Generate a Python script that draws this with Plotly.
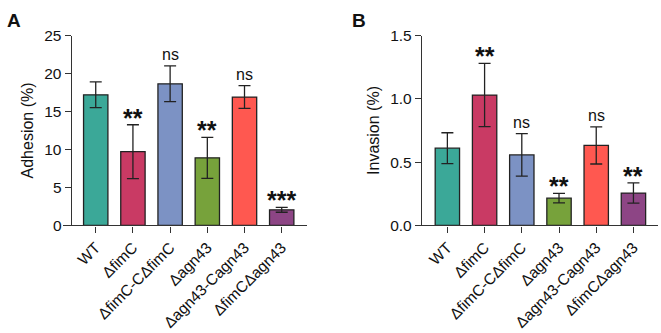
import plotly.graph_objects as go

categories = ["WT", "ΔfimC", "ΔfimC-CΔfimC", "Δagn43", "Δagn43-Cagn43", "ΔfimCΔagn43"]
colors = ["#3BA898", "#C93A64", "#7C92C4", "#77A23B", "#FF5850", "#8D4585"]

adhesion_mean = [17.2, 9.7, 18.65, 8.9, 16.9, 2.05]
adhesion_sd = [1.7, 3.55, 2.35, 2.7, 1.5, 0.32]
adhesion_sig = ["", "**", "ns", "**", "ns", "***"]

invasion_mean = [0.61, 1.03, 0.557, 0.215, 0.632, 0.255]
invasion_sd = [0.122, 0.25, 0.168, 0.038, 0.147, 0.08]
invasion_sig = ["", "**", "ns", "**", "ns", "**"]

W, H = 661, 333
FONT = "Liberation Sans, Arial, sans-serif"

fig = go.Figure()

def px_x(p):
    return p / W

def px_y(p):
    return (H - p) / H

panels = [
    dict(mean=adhesion_mean, sd=adhesion_sd, sig=adhesion_sig, xa="x", ya="y",
         xdom=[px_x(63), px_x(307)], ypos=px_x(70.8), xr=[-0.88, 5.68],
         yr=[0, 25], dtick=5, fmt="", title="Adhesion (%)", letter="A", lx=px_x(5)),
    dict(mean=invasion_mean, sd=invasion_sd, sig=invasion_sig, xa="x2", ya="y2",
         xdom=[px_x(415), px_x(658)], ypos=px_x(421), xr=[-0.87, 5.66],
         yr=[0, 1.5], dtick=0.5, fmt=".1f", title="Invasion (%)", letter="B", lx=px_x(350)),
]

annotations = []
for i, p in enumerate(panels):
    fig.add_trace(go.Bar(
        x=list(range(len(categories))), y=p["mean"],
        marker=dict(color=colors, line=dict(color="#222222", width=1.3)),
        width=0.655,
        error_y=dict(type="data", array=p["sd"], visible=True, color="#222222",
                     thickness=1.3, width=6),
        xaxis=p["xa"], yaxis=p["ya"], showlegend=False,
    ))
    for j, s in enumerate(p["sig"]):
        if not s:
            continue
        is_star = s.startswith("*")
        annotations.append(dict(
            x=j, y=p["mean"][j] + p["sd"][j], xref=p["xa"], yref=p["ya"],
            text=("<b>" + s + "</b>") if is_star else s, showarrow=False, yanchor="bottom",
            yshift=-9 if is_star else 1,
            font=dict(family=FONT, size=25 if is_star else 16, color="#111111"),
        ))
    annotations.append(dict(
        x=p["lx"], y=px_y(12), xref="paper", yref="paper", text="<b>" + p["letter"] + "</b>",
        showarrow=False, xanchor="left", yanchor="middle",
        font=dict(family=FONT, size=19, color="#111111"),
    ))

axis_common = dict(showline=True, linecolor="#333333", linewidth=1.4,
                   ticks="outside", tickcolor="#333333", tickwidth=1.4, ticklen=6,
                   showgrid=False, zeroline=False)

layout = dict(
    width=W, height=H, margin=dict(l=0, r=0, t=0, b=0),
    paper_bgcolor="white", plot_bgcolor="white",
    font=dict(family=FONT, size=15, color="#111111"),
    annotations=annotations, bargap=0.3,
)
for i, p in enumerate(panels):
    sfx = "" if i == 0 else "2"
    layout["xaxis" + sfx] = dict(
        domain=p["xdom"], range=p["xr"], anchor="y" + sfx,
        tickmode="array", tickvals=list(range(len(categories))), ticktext=categories,
        tickangle=-45, tickfont=dict(size=15.5), **axis_common)
    layout["yaxis" + sfx] = dict(
        domain=[px_y(228), px_y(28)], range=p["yr"], anchor="free", position=p["ypos"],
        dtick=p["dtick"], tickformat=p["fmt"], tickfont=dict(size=15.5),
        title=dict(text=p["title"], font=dict(size=16), standoff=5), **axis_common)

fig.update_layout(**layout)
fig.write_html("out.html")
